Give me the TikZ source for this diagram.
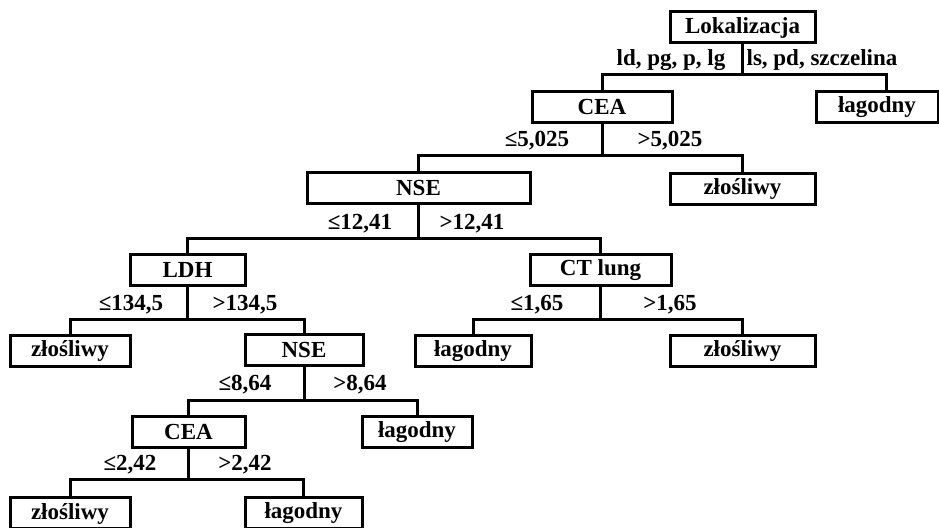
\documentclass[tikz,border=0pt]{standalone}
\usepackage{fontspec}
\setmainfont{Liberation Serif}
\usetikzlibrary{positioning}
\begin{document}
\begin{tikzpicture}[x=0.5pt, y=-0.5pt, line width=1.5pt,
	box/.style={draw, inner sep=0pt, minimum height=15.5pt,
		font=\bfseries\fontsize{11.5}{13}\selectfont},
	bw/.style={minimum width=#1*0.5pt},
	lbl/.style={anchor=base, inner sep=0pt, font=\bfseries\fontsize{11.5}{13}\selectfont}]
	\useasboundingbox (0,0) rectangle (939,528);
	\node[box,bw=145] (lok) at (742.5,27.5) {Lokalizacja};
	\node[box,bw=140] (cea1) at (602,107) {CEA};
	\node[box,bw=122] (lag1) at (877,107.5) {łagodny};
	\node[box,bw=223] (nse1) at (418.5,188.5) {NSE};
	\node[box,bw=145] (zl1) at (742.5,189) {złośliwy};
	\node[box,bw=115] (ldh) at (187.5,270) {LDH};
	\node[box,bw=141] (ct) at (600.5,270.5) {CT lung};
	\node[box,bw=120] (zl2) at (70,351) {złośliwy};
	\node[box,bw=118] (nse2) at (304,350) {NSE};
	\node[box,bw=116] (lag2) at (473,351) {łagodny};
	\node[box,bw=145] (zl3) at (742.5,351) {złośliwy};
	\node[box,bw=113] (cea2) at (188.5,432) {CEA};
	\node[box,bw=110] (lag3) at (417,432) {łagodny};
	\node[box,bw=120] (zl4) at (70,513.5) {złośliwy};
	\node[box,bw=117] (lag4) at (303.5,513.5) {łagodny};
	\draw (lok.south) -- ++(0,30) coordinate (s1) -| (cea1.north);
	\draw (s1) -| ([xshift=4.5pt]lag1.north);
	\draw (cea1.south) -- ++(0,31.5) coordinate (s2) -| (nse1.north);
	\draw (s2) -| (zl1.north);
	\draw (nse1.south) -- ++(0,33) coordinate (s3) -| (ldh.north);
	\draw (s3) -| (ct.north);
	\draw (ldh.south) -- ++(0,33) coordinate (s4) -| (zl2.north);
	\draw (s4) -| (nse2.north);
	\draw (ct.south) -- ++(0,32) coordinate (s5) -| (lag2.north);
	\draw (s5) -| (zl3.north);
	\draw (nse2.south) -- ++(0,34) coordinate (s6) -| (cea2.north);
	\draw (s6) -| (lag3.north);
	\draw (cea2.south) -- ++(0,30.5) coordinate (s7) -| (zl4.north);
	\draw (s7) -| (lag4.north);
	\node[lbl] (t1l) at (671,66) {ld, pg, p, lg};
	\node[lbl] (t1r) at (822,66) {ls, pd, szczelina};
	\node[lbl] (t2l) at (537,147) {≤5,025};
	\node[lbl] (t2r) at (670,147) {>5,025};
	\node[lbl] (t3l) at (360,230) {≤12,41};
	\node[lbl] (t3r) at (472,230) {>12,41};
	\node[lbl] (t4l) at (131,311) {≤134,5};
	\node[lbl] (t4r) at (245,311) {>134,5};
	\node[lbl] (t5l) at (537,311) {≤1,65};
	\node[lbl] (t5r) at (670,311) {>1,65};
	\node[lbl] (t6l) at (245,391) {≤8,64};
	\node[lbl] (t6r) at (360,391) {>8,64};
	\node[lbl] (t7l) at (130,471) {≤2,42};
	\node[lbl] (t7r) at (245,471) {>2,42};
\end{tikzpicture}
\end{document}
